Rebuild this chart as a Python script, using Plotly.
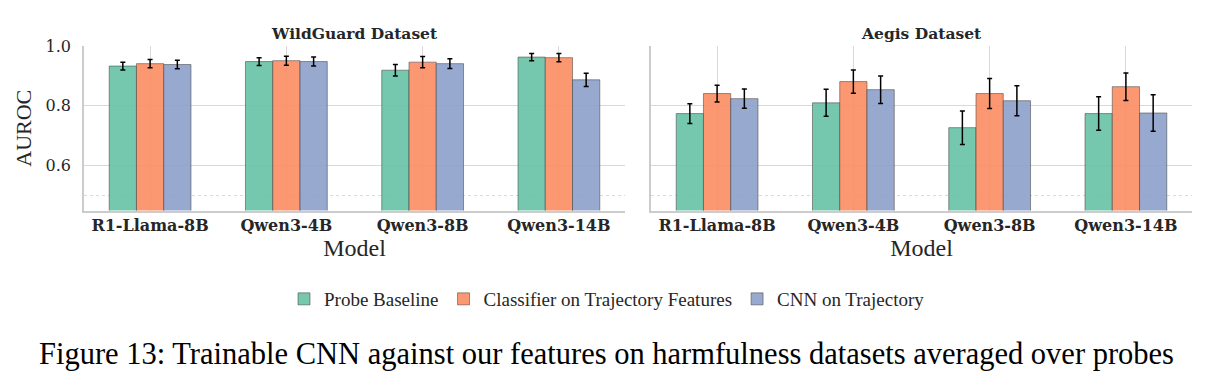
import plotly.graph_objects as go

models = ["R1-Llama-8B", "Qwen3-4B", "Qwen3-8B", "Qwen3-14B"]
series = ["Probe Baseline", "Classifier on Trajectory Features", "CNN on Trajectory"]
colors = ["rgba(102,194,165,0.9)", "rgba(252,141,98,0.9)", "rgba(141,160,203,0.9)"]

# WildGuard Dataset
wg_probe = [0.933, 0.948, 0.919, 0.963]
wg_probe_err = [0.013, 0.013, 0.019, 0.012]
wg_clf = [0.941, 0.951, 0.946, 0.961]
wg_clf_err = [0.014, 0.015, 0.019, 0.014]
wg_cnn = [0.938, 0.948, 0.941, 0.887]
wg_cnn_err = [0.014, 0.015, 0.016, 0.022]

# Aegis Dataset
ag_probe = [0.774, 0.810, 0.727, 0.774]
ag_probe_err = [0.033, 0.045, 0.056, 0.056]
ag_clf = [0.841, 0.881, 0.841, 0.864]
ag_clf_err = [0.028, 0.039, 0.050, 0.046]
ag_cnn = [0.824, 0.854, 0.817, 0.776]
ag_cnn_err = [0.032, 0.046, 0.050, 0.061]

W, H = 1212, 391
fig = go.Figure()

panels = [
    ("x", "y", [wg_probe, wg_clf, wg_cnn], [wg_probe_err, wg_clf_err, wg_cnn_err]),
    ("x2", "y2", [ag_probe, ag_clf, ag_cnn], [ag_probe_err, ag_clf_err, ag_cnn_err]),
]
for pi, (xa, ya, vals, errs) in enumerate(panels):
    for si in range(3):
        fig.add_trace(go.Bar(
            x=models, y=vals[si], name=series[si],
            marker=dict(color=colors[si], line=dict(color="rgba(70,70,70,0.7)", width=0.8)),
            error_y=dict(type="data", array=errs[si], color="black", thickness=1.5, width=2.5),
            xaxis=xa, yaxis=ya, showlegend=(pi == 0), legendgroup=series[si],
        ))

grid = "#d9d9d9"
spine = "#cccccc"
y0, y1 = 1 - 210.5 / H, 1 - 46 / H
xfont = dict(family="DejaVu Serif", size=16, color="#262626", weight="bold")
common_x = dict(type="category", range=[-0.485, 3.485], showgrid=True, gridcolor=grid, gridwidth=1.2,
                showline=True, linecolor=spine, linewidth=1.5, ticks="", tickfont=xfont, automargin=False,
                title=dict(text="Model", font=dict(family="Liberation Serif", size=24, color="#262626"), standoff=4))
common_y = dict(range=[0.45, 1.0], tickvals=[0.6, 0.8, 1.0], showgrid=True, gridcolor=grid, gridwidth=1.2,
                showline=True, linecolor=spine, linewidth=1.5, ticks="", zeroline=False, automargin=False)

fig.update_layout(
    width=W, height=H, margin=dict(l=0, r=0, t=0, b=0),
    paper_bgcolor="white", plot_bgcolor="white",
    barmode="group", bargap=0.4, bargroupgap=0,
    xaxis=dict(domain=[84 / W, 625 / W], anchor="y", **common_x),
    xaxis2=dict(domain=[651 / W, 1192 / W], anchor="y2", **common_x),
    yaxis=dict(domain=[y0, y1], anchor="x", ticktext=["0.6", "0.8", "1.0"], ticklabelstandoff=8,
               tickfont=dict(family="DejaVu Serif", size=16, color="#262626"),
               title=dict(text="AUROC", font=dict(family="Liberation Serif", size=22, color="#262626"), standoff=8),
               **common_y),
    yaxis2=dict(domain=[y0, y1], anchor="x2", showticklabels=False, **common_y),
    legend=dict(orientation="h", x=607 / W, xanchor="center", y=1 - 299 / H, yanchor="middle",
                font=dict(family="Liberation Serif", size=19, color="#262626"),
                itemwidth=30, tracegroupgap=0),
    font=dict(family="DejaVu Serif"),
)

for xa, ya in [("x", "y"), ("x2", "y2")]:
    fig.add_shape(type="line", xref=f"{xa} domain", yref=ya, x0=0, x1=1, y0=0.5, y1=0.5,
                  line=dict(color="#cfcfcf", width=0.8, dash="dot"), layer="below")

fig.add_annotation(text="<b>WildGuard Dataset</b>", xref="paper", yref="paper", x=354.5 / W, y=1 - 33 / H,
                   yanchor="middle", xanchor="center",
                   showarrow=False, font=dict(family="DejaVu Serif", size=15.5, color="#262626"))
fig.add_annotation(text="<b>Aegis Dataset</b>", xref="paper", yref="paper", x=921.5 / W, y=1 - 33 / H,
                   yanchor="middle", xanchor="center",
                   showarrow=False, font=dict(family="DejaVu Serif", size=15.5, color="#262626"))
fig.add_annotation(text="Figure 13: Trainable CNN against our features on harmfulness datasets averaged over probes",
                   xref="paper", yref="paper", x=606 / W, y=1 - 354 / H, showarrow=False,
                   yanchor="middle", xanchor="center",
                   font=dict(family="Liberation Serif", size=30.5, color="black"))

fig.write_html("out.html")
